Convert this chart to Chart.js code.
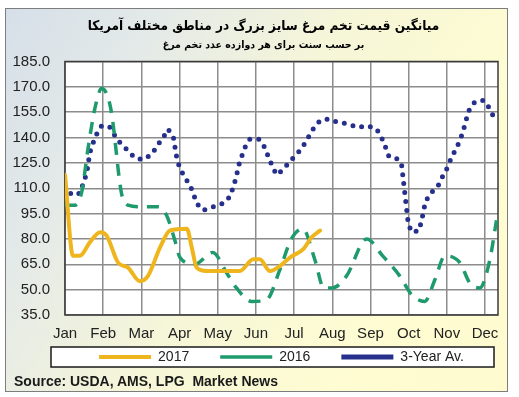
<!DOCTYPE html>
<html>
<head>
<meta charset="utf-8">
<script src="https://cdn.jsdelivr.net/npm/chart.js"></script>
<style>
  body { margin: 0; background: #fff; }
  #wrap { position: relative; width: 519px; height: 397px; }
  #frame {
    position: absolute; left: 5px; top: 8px; width: 501px; height: 382px;
    border: 1px solid #7d7d7d;
    background: linear-gradient(120deg, #d6dfe9 0%, #e4eae8 22%, #f6f6d8 48%, #fefcd2 75%, #fffbcf 100%);
  }
  #box { position: absolute; left: 0; top: 0; width: 519px; height: 397px; }
  #src { position: absolute; left: 14px; top: 373px; font: bold 14px "Liberation Sans", Arial, sans-serif; color: #1a1a1a; }
</style>
</head>
<body>
<div id="wrap">
  <div id="frame"></div>
  <div id="box"><canvas id="eggChart"></canvas></div>
  <div id="src">Source: USDA, AMS, LPG&nbsp; Market News</div>
</div>
<script>
// month labels on the x axis (x values below are in months, Jan = 0)
const months = ['Jan', 'Feb', 'Mar', 'Apr', 'May', 'Jun', 'Jul', 'Aug', 'Sep', 'Oct', 'Nov', 'Dec'];

// 2017 (cents per dozen)
const x2017 = [0, 0.21, 0.39, 0.65, 0.92, 1.09, 1.39, 1.65, 1.96, 2.17, 2.49, 2.75, 3.19, 3.32, 3.45, 3.71, 4.58, 4.93, 5.1, 5.37, 5.63, 5.89, 6.24, 6.46, 6.68];
const v2017 = [118, 70, 70, 78, 84, 82, 66, 63, 55, 58, 75, 85, 86, 75, 63, 61, 61, 68, 68, 61, 64, 69, 74, 81, 85];

// 2016
const x2016 = [0, 0.26, 0.44, 0.6, 0.79, 0.96, 1.2, 1.48, 1.65, 2.0, 2.45, 2.66, 2.88, 3.01, 3.4, 3.87, 4.23, 4.49, 4.89, 5.28, 5.63, 5.93, 6.23, 6.54, 6.78, 7.0, 7.37, 7.9, 8.32, 8.77, 9.08, 9.42, 9.69, 9.95, 10.34, 10.6, 10.86, 11.12, 11.3];
const v2016 = [100, 100, 108, 133, 158, 169, 157, 107, 100, 99, 99, 94, 79, 69, 65, 72, 60, 51, 43, 44, 62, 80, 86, 68, 51, 51, 58, 80, 70, 58, 47, 43, 56, 70, 66, 54, 51, 67, 91];

// 3-year average
const xAvg = [0, 0.18, 0.39, 0.48, 0.57, 0.65, 0.74, 0.83, 0.96, 1.18, 1.31, 1.44, 1.66, 1.83, 2.05, 2.27, 2.44, 2.57, 2.7, 2.84, 2.92, 2.99, 3.12, 3.27, 3.36, 3.45, 3.62, 3.88, 4.14, 4.32, 4.41, 4.49, 4.54, 4.63, 4.71, 4.84, 5.08, 5.21, 5.32, 5.43, 5.54, 5.71, 5.89, 6.07, 6.24, 6.37, 6.5, 6.68, 6.92, 7.15, 7.42, 7.66, 7.92, 8.16, 8.29, 8.4, 8.48, 8.66, 8.81, 8.87, 8.93, 8.99, 9.08, 9.27, 9.34, 9.44, 9.57, 9.76, 9.89, 10.01, 10.1, 10.23, 10.34, 10.43, 10.5, 10.58, 10.73, 10.97, 11.13, 11.25];
const vAvg = [111, 106, 107, 113, 119, 131, 137, 142, 147, 146, 141, 137, 132, 128, 127, 130, 136, 140, 145, 140, 129, 123, 117, 112, 107, 101, 97, 99, 101, 105, 111, 117, 123, 129, 134, 139, 139, 135, 129, 123, 118, 121, 126, 130, 135, 140, 145, 150, 151, 149, 148, 146, 147, 145, 140, 134, 129, 128, 125, 113, 101, 89, 84, 85, 91, 102, 107, 111, 117, 122, 127, 133, 138, 144, 150, 156, 161, 162, 157, 151];

const yTicks = { min: 35, max: 185, step: 15 };

const toPoints = (xs, vs) => xs.map((x, i) => ({ x: x, y: vs[i] }));

// white plot area, legend frame, plot border
const framePlugin = {
    id: 'framePlugin',
    beforeDraw(chart) {
        const { ctx, chartArea: a, legend } = chart;
        ctx.save();
        ctx.fillStyle = '#ffffff';
        ctx.fillRect(a.left, a.top, a.right - a.left, a.bottom - a.top);
        const hb = legend.legendHitBoxes[0];
        if (hb) {
            const cy = hb.top + hb.height / 2;
            ctx.fillRect(a.left - 14, cy - 10, a.right - a.left + 10, 20);
            ctx.strokeStyle = '#1a1a1a';
            ctx.lineWidth = 1.5;
            ctx.strokeRect(a.left - 14, cy - 10, a.right - a.left + 10, 20);
        }
        ctx.restore();
    },
    beforeDatasetsDraw(chart) {
        const { ctx, chartArea: a } = chart;
        ctx.save();
        ctx.strokeStyle = '#3a3a3a';
        ctx.lineWidth = 1.5;
        ctx.strokeRect(a.left, a.top, a.right - a.left, a.bottom - a.top);
        ctx.restore();
    }
};

Chart.defaults.font.family = "'Liberation Sans', Arial, sans-serif";

new Chart(document.getElementById('eggChart'), {
    type: 'line',
    data: {
        datasets: [{
            label: '2017',
            data: toPoints(x2017, v2017),
            borderColor: '#efb51d',
            borderWidth: 4,
            pointRadius: 0,
            cubicInterpolationMode: 'monotone',
            borderCapStyle: 'round',
            borderJoinStyle: 'round'
        }, {
            label: '2016',
            data: toPoints(x2016, v2016),
            borderColor: '#1e9a6c',
            borderWidth: 3.5,
            borderDash: [12, 9],
            pointRadius: 0,
            cubicInterpolationMode: 'monotone'
        }, {
            label: '3-Year Av.',
            data: toPoints(xAvg, vAvg),
            borderColor: '#26308c',
            borderWidth: 5,
            borderDash: [0, 9],
            borderCapStyle: 'round',
            pointRadius: 0,
            tension: 0
        }]
    },
    options: {
        responsive: true,
        maintainAspectRatio: false,
        animation: false,
        layout: { padding: { left: 8, right: 0, top: 0, bottom: 23 } },
        plugins: {
            title: {
                display: true,
                text: 'میانگین قیمت تخم مرغ سایز بزرگ در مناطق مختلف آمریکا',
                color: '#000',
                font: { family: "'DejaVu Sans Condensed', 'DejaVu Sans', sans-serif", size: 13.5, weight: 'bold' },
                padding: { top: 18.5, bottom: 3 }
            },
            subtitle: {
                display: true,
                text: 'بر حسب سنت برای هر دوازده عدد تخم مرغ',
                color: '#000',
                font: { family: "'DejaVu Sans Condensed', 'DejaVu Sans', sans-serif", size: 10.5, weight: 'bold' },
                padding: { top: 1, bottom: 10.2 }
            },
            legend: {
                position: 'bottom',
                fullSize: false,
                labels: {
                    usePointStyle: true,
                    pointStyle: 'line',
                    pointStyleWidth: 52,
                    padding: 31,
                    color: '#222',
                    font: { size: 14 }
                }
            },
            tooltip: { enabled: false }
        },
        scales: {
            x: {
                type: 'linear',
                min: 0,
                max: 11.34,
                // thin axis box so the legend sits close; mirrored labels are not clipped,
                // the negative padding pushes them back below the plot
                afterFit: (s) => { s.height = 4; },
                border: { display: false },
                grid: { color: '#8c8c8c', lineWidth: 1.5, drawTicks: false },
                ticks: {
                    stepSize: 1,
                    includeBounds: false,
                    mirror: true,
                    padding: -28,
                    color: '#222',
                    font: { size: 15 },
                    maxRotation: 0,
                    autoSkip: false,
                    callback: (v) => months[v]
                }
            },
            y: {
                min: yTicks.min,
                max: yTicks.max,
                afterFit: (s) => { s.width = 57; },
                border: { display: false },
                grid: { color: '#8c8c8c', lineWidth: 1.5, drawTicks: false },
                ticks: {
                    stepSize: yTicks.step,
                    padding: 15,
                    color: '#222',
                    font: { size: 15 },
                    callback: (v) => v.toFixed(1)
                }
            },
            // empty right-hand axis, only keeps the gap between plot and frame
            yRight: {
                position: 'right',
                display: true,
                min: yTicks.min,
                max: yTicks.max,
                afterFit: (s) => { s.width = 21; },
                border: { display: false },
                grid: { display: false },
                ticks: { display: false }
            }
        }
    },
    plugins: [framePlugin]
});
</script>
</body>
</html>
